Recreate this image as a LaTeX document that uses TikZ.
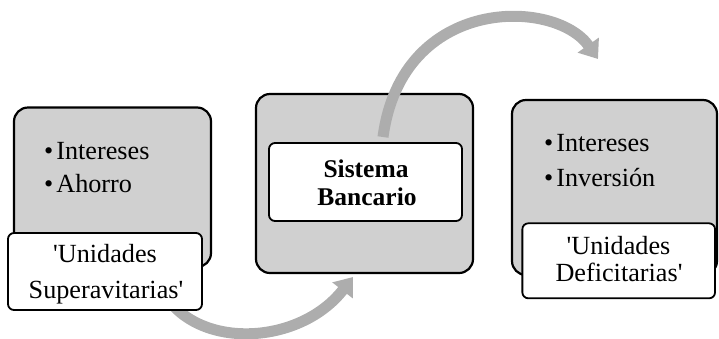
\documentclass[tikz,border=0pt]{standalone}
\usepackage{fontspec}
\setmainfont{Liberation Serif}
\usetikzlibrary{arrows.meta}
\definecolor{boxgray}{RGB}{208,208,208}
\definecolor{flowgray}{RGB}{173,173,173}
\newcommand{\sq}{\textquotesingle}

\begin{document}
\begin{tikzpicture}[x=1pt,y=-1pt,
  panel/.style={draw=black, line width=2.2pt, fill=boxgray, rounded corners=14pt, inner sep=0pt},
  tag/.style={draw=black, line width=1.8pt, fill=white, rounded corners=6pt, inner sep=0pt},
  flow/.style={draw=flowgray, line width=11pt, -{Triangle[width=25pt,length=17pt]}},
  txt/.style={inner sep=0pt, font=\fontsize{26.2}{30}\selectfont},
  item/.style={txt, anchor=base west},
  line/.style={txt, anchor=base}]
\useasboundingbox (0,0) rectangle (719,338);

% three grey panels
\node[panel, minimum width=197pt, minimum height=159.5pt] (left) at (112.5,187.25) {};
\node[panel, minimum width=217pt, minimum height=179pt] (mid) at (364.5,183.5) {};
\node[panel, minimum width=205pt, minimum height=175pt] (right) at (614.5,187.5) {};

% lower flow arrow, passing under the left tag
\coordinate (b0) at (165,295);
\coordinate (b1) at (353,277);
\draw[flow] (b0) .. controls (200,350) and (300,345) .. (b1);

% left tag
\node[tag, minimum width=194pt, minimum height=77pt] (ltag) at (105,271.5) {};

% upper flow arrow from the bank towards the deficit units
\coordinate (t0) at (383,137);
\coordinate (t1) at (598,59);
\draw[flow] (t0) .. controls (402,-5) and (555,-2) .. (t1);

% inner box of the bank and the right tag
\node[tag, minimum width=193pt, minimum height=78pt] (bank) at (365.5,182) {};
\node[tag, minimum width=192.7pt, minimum height=75pt] (rtag) at (618.7,260.8) {};

% texts
\node[item] (l1) at (44,159) {•\hspace{3pt}Intereses};
\node[item] (l2) at (44,192) {•\hspace{3pt}Ahorro};
\node[line] (lt1) at (105,262) {\sq Unidades};
\node[line] (lt2) at (106,298) {Superavitarias\sq};

\node[line, font=\fontsize{25.5}{30}\selectfont\bfseries] (m1) at (366,177.7) {Sistema};
\node[line, font=\fontsize{25.5}{30}\selectfont\bfseries] (m2) at (367,205) {Bancario};

\node[item] (r1) at (544,151.7) {•\hspace{3pt}Intereses};
\node[item] (r2) at (544,186.7) {•\hspace{3pt}Inversión};
\node[line] (rt1) at (618.5,254.3) {\sq Unidades};
\node[line] (rt2) at (619,281.7) {Deficitarias\sq};
\end{tikzpicture}
\end{document}
